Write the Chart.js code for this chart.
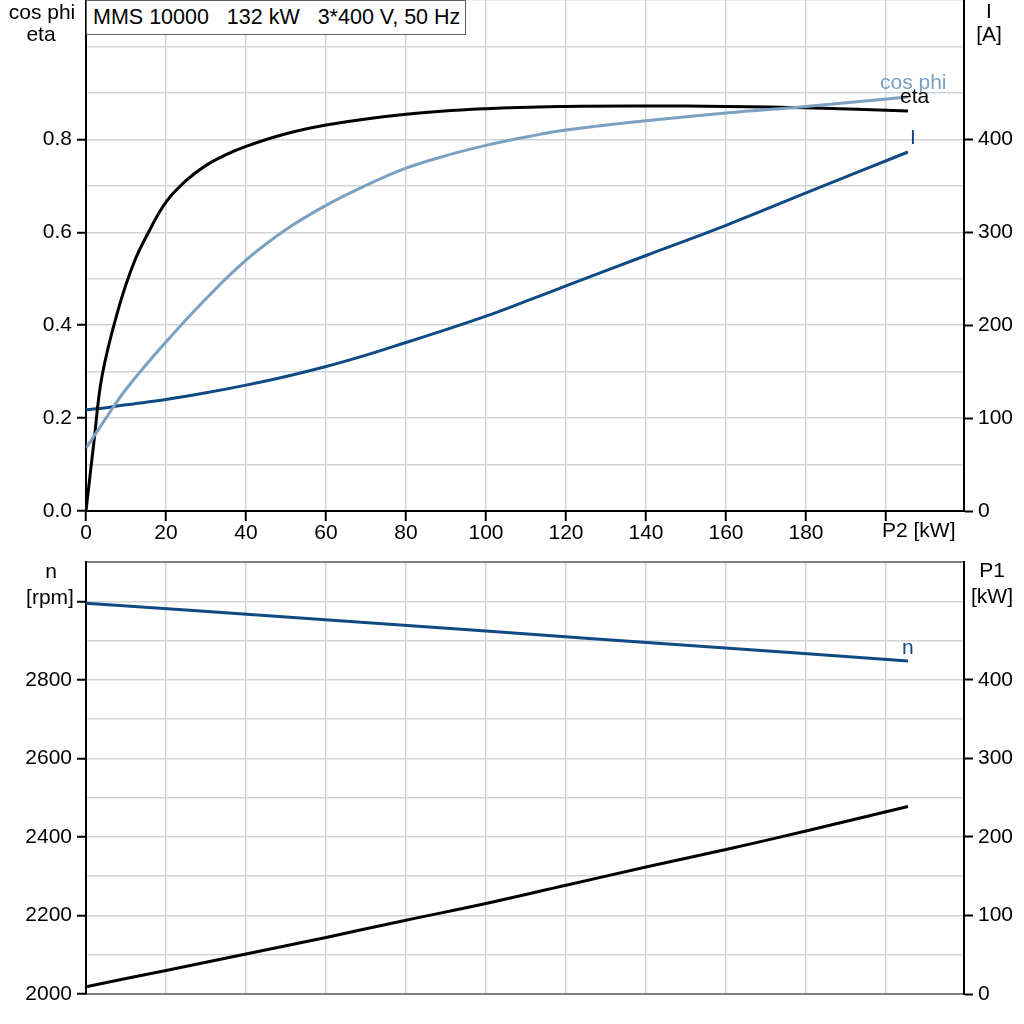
<!DOCTYPE html>
<html>
<head>
<meta charset="utf-8">
<script src="https://cdn.jsdelivr.net/npm/chart.js@4/dist/chart.umd.min.js"></script>
<style>
  html, body { margin: 0; padding: 0; background: #fff; }
  #wrap { position: relative; width: 1024px; height: 1024px; overflow: hidden; }
  #topBox { position: absolute; left: 0; top: 0; width: 1024px; height: 550px; }
  #botBox { position: absolute; left: 0; top: 545px; width: 1024px; height: 479px; }
  #title {
    position: absolute; left: 86px; top: 0; width: 380px; height: 35px;
    box-sizing: border-box; border: 1px solid #606060; background: #fff;
    font: 21.5px "Liberation Sans", Arial, sans-serif; line-height: 33px;
    padding-left: 6px; white-space: pre; color: #000;
  }
</style>
</head>
<body>
<div id="wrap">
  <div id="topBox"><canvas id="topChart"></canvas></div>
  <div id="botBox"><canvas id="botChart"></canvas></div>
  <div id="title">MMS 10000   132 kW   3*400 V, 50 Hz</div>
</div>
<script>
// values, x = P2 [kW]
const p2Eta = [0, 2, 4, 8, 12, 16, 20, 25, 30, 35, 40, 50, 60, 80, 100, 120, 140, 160, 180, 205.5];
const eta = [0, 0.15, 0.29, 0.432, 0.535, 0.606, 0.665, 0.711, 0.744, 0.767, 0.785, 0.812, 0.831, 0.854, 0.866, 0.871, 0.872, 0.871, 0.868, 0.861];

const p2Top = [0, 5, 10, 20, 30, 40, 50, 60, 70, 80, 90, 100, 110, 120, 140, 160, 180, 205.5];
const cosPhi = [0.135, 0.2, 0.262, 0.364, 0.457, 0.54, 0.606, 0.658, 0.701, 0.738, 0.765, 0.787, 0.805, 0.82, 0.84, 0.857, 0.871, 0.891];
const current = [109, 111.2, 114.3, 120, 127.2, 135.5, 144.8, 155.5, 167.8, 181.4, 195.2, 209.7, 225.8, 242.3, 275, 307.5, 342.3, 386.4];

const p2N = [0, 50, 100, 150, 205.5];
const speed = [2995, 2960, 2924, 2888, 2848];

const p2P1 = [0, 20, 40, 60, 80, 100, 120, 140, 160, 180, 205.5];
const p1 = [9.3, 30, 51, 72, 94, 115.2, 138.4, 161.7, 184, 207.5, 238.7];

const xMax = 219.5;

const DARK = '#0f4a84';
const LIGHT = '#7aa0c2';
const GRID = '#d2d5d8';
const FONT = { family: '"Liberation Sans", Arial, sans-serif', size: 21 };
const FONT_CSS = '21px "Liberation Sans", Arial, sans-serif';

function pts(xs, ys) { return xs.map((x, i) => ({ x: x, y: ys[i] })); }

function line(label, xs, ys, color, axis, order) {
    return {
        label: label,
        data: pts(xs, ys),
        borderColor: color,
        borderWidth: 3,
        pointRadius: 0,
        fill: false,
        tension: 0.4,
        yAxisID: axis,
        order: order
    };
}

const CLEAR = 'rgba(0,0,0,0)';

// texts beside the axes and at the ends of the curves
const textPlugin = {
    id: 'texts',
    afterDraw(chart) {
        const ctx = chart.ctx;
        const cfg = chart.options.plugins.texts || {};
        ctx.save();
        ctx.font = FONT_CSS;
        ctx.textBaseline = 'middle';
        (cfg.fixed || []).forEach(t => {
            ctx.fillStyle = t.color || '#000';
            ctx.textAlign = t.align || 'center';
            ctx.fillText(t.text, t.x, t.y);
        });
        (cfg.ends || []).forEach(t => {
            const ds = chart.data.datasets[t.ds];
            const last = ds.data[ds.data.length - 1];
            const px = chart.scales.x.getPixelForValue(last.x);
            const py = chart.scales[ds.yAxisID].getPixelForValue(last.y);
            ctx.fillStyle = t.color;
            ctx.textAlign = 'left';
            ctx.fillText(t.text, px + t.dx, py + t.dy);
        });
        ctx.restore();
    }
};

function fixWidth(w) {
    return s => { s.width = w; s.paddingTop = 0; s.paddingBottom = 0; };
}

new Chart(document.getElementById('topChart'), {
    type: 'line',
    data: {
        datasets: [
            line('cos phi', p2Top, cosPhi, LIGHT, 'y', 0),
            line('eta', p2Eta, eta, '#000', 'y', 1),
            line('I', p2Top, current, DARK, 'yI', 2)
        ]
    },
    options: {
        responsive: true,
        maintainAspectRatio: false,
        animation: false,
        layout: { padding: 0 },
        plugins: {
            legend: { display: false },
            tooltip: { enabled: false },
            texts: {
                fixed: [
                    { text: 'cos phi', x: 42, y: 13 },
                    { text: 'eta', x: 41, y: 35 },
                    { text: 'I', x: 989, y: 12 },
                    { text: '[A]', x: 989, y: 35 },
                    { text: 'P2 [kW]', x: 882, y: 531, align: 'left' }
                ],
                ends: [
                    { ds: 0, text: 'cos phi', color: LIGHT, dx: -28, dy: -14 },
                    { ds: 1, text: 'eta', color: '#000', dx: -8, dy: -14 },
                    { ds: 2, text: 'I', color: DARK, dx: 2, dy: -14 }
                ]
            }
        },
        scales: {
            x: {
                type: 'linear',
                min: 0,
                max: xMax,
                afterFit: s => { s.height = 39; s.paddingLeft = 0; s.paddingRight = 0; },
                ticks: {
                    stepSize: 20,
                    includeBounds: false,
                    maxRotation: 0,
                    padding: 0,
                    color: '#000',
                    font: FONT,
                    callback: v => (v === 200 ? '' : v)
                },
                grid: { color: GRID, lineWidth: 1.5, tickColor: '#000', tickLength: 10, tickWidth: 2 },
                border: { color: '#000', width: 2 }
            },
            y: {
                type: 'linear',
                position: 'left',
                min: 0,
                max: 1.1,
                afterFit: fixWidth(86),
                ticks: {
                    stepSize: 0.1,
                    includeBounds: false,
                    padding: 5,
                    color: '#000',
                    font: FONT,
                    callback: v => {
                        const k = Math.round(v * 10);
                        return (k % 2 === 0 && k <= 8) ? (k / 10).toFixed(1) : '';
                    }
                },
                grid: {
                    color: GRID,
                    lineWidth: 1.5,
                    tickLength: 9,
                    tickWidth: 2,
                    tickColor: c => {
                        if (!c.tick) return '#000';
                        const k = Math.round(c.tick.value * 10);
                        return (k % 2 === 0 && k <= 8) ? '#000' : CLEAR;
                    }
                },
                border: { color: '#000', width: 2 }
            },
            yI: {
                type: 'linear',
                position: 'right',
                min: 0,
                max: 550,
                afterFit: fixWidth(60),
                ticks: {
                    stepSize: 100,
                    includeBounds: false,
                    padding: 5,
                    color: '#000',
                    font: FONT,
                    callback: v => (v <= 400 ? v : '')
                },
                grid: {
                    drawOnChartArea: false,
                    tickLength: 9,
                    tickWidth: 2,
                    tickColor: c => (c.tick && c.tick.value > 400 ? CLEAR : '#000')
                },
                border: { color: '#000', width: 2 }
            }
        }
    },
    plugins: [textPlugin]
});

new Chart(document.getElementById('botChart'), {
    type: 'line',
    data: {
        datasets: [
            line('n', p2N, speed, DARK, 'yN', 0),
            line('P1', p2P1, p1, '#000', 'yP', 1)
        ]
    },
    options: {
        responsive: true,
        maintainAspectRatio: false,
        animation: false,
        layout: { padding: 0 },
        plugins: {
            legend: { display: false },
            tooltip: { enabled: false },
            texts: {
                fixed: [
                    { text: 'n', x: 51, y: 27 },
                    { text: '[rpm]', x: 50, y: 53 },
                    { text: 'P1', x: 992, y: 26 },
                    { text: '[kW]', x: 992, y: 52 }
                ],
                ends: [
                    { ds: 0, text: 'n', color: DARK, dx: -6, dy: -13 }
                ]
            }
        },
        scales: {
            x: {
                type: 'linear',
                min: 0,
                max: xMax,
                afterFit: s => { s.height = 30; s.paddingLeft = 0; s.paddingRight = 0; },
                ticks: { display: false, stepSize: 20, includeBounds: false },
                grid: { color: GRID, lineWidth: 1.5, drawTicks: false },
                border: { color: '#808080', width: 2 }
            },
            xTop: {
                type: 'linear',
                position: 'top',
                min: 0,
                max: xMax,
                afterFit: s => { s.height = 17; s.paddingLeft = 0; s.paddingRight = 0; },
                ticks: { display: false },
                grid: { drawOnChartArea: false, drawTicks: false },
                border: { color: '#808080', width: 2 }
            },
            yN: {
                type: 'linear',
                position: 'left',
                min: 2000,
                max: 3100,
                afterFit: fixWidth(86),
                ticks: {
                    stepSize: 100,
                    includeBounds: false,
                    padding: 5,
                    color: '#000',
                    font: FONT,
                    callback: v => (v % 200 === 0 && v <= 2800 ? v : '')
                },
                grid: {
                    color: GRID,
                    lineWidth: 1.5,
                    tickLength: 9,
                    tickWidth: 2,
                    tickColor: c => (c.tick && (c.tick.value % 200 !== 0 || c.tick.value > 3000) ? CLEAR : '#000')
                },
                border: { color: '#000', width: 2 }
            },
            yP: {
                type: 'linear',
                position: 'right',
                min: 0,
                max: 550,
                afterFit: fixWidth(60),
                ticks: {
                    stepSize: 100,
                    includeBounds: false,
                    padding: 5,
                    color: '#000',
                    font: FONT,
                    callback: v => (v <= 400 ? v : '')
                },
                grid: {
                    drawOnChartArea: false,
                    tickLength: 9,
                    tickWidth: 2,
                    tickColor: c => (c.tick && c.tick.value > 400 ? CLEAR : '#000')
                },
                border: { color: '#000', width: 2 }
            }
        }
    },
    plugins: [textPlugin]
});
</script>
</body>
</html>
